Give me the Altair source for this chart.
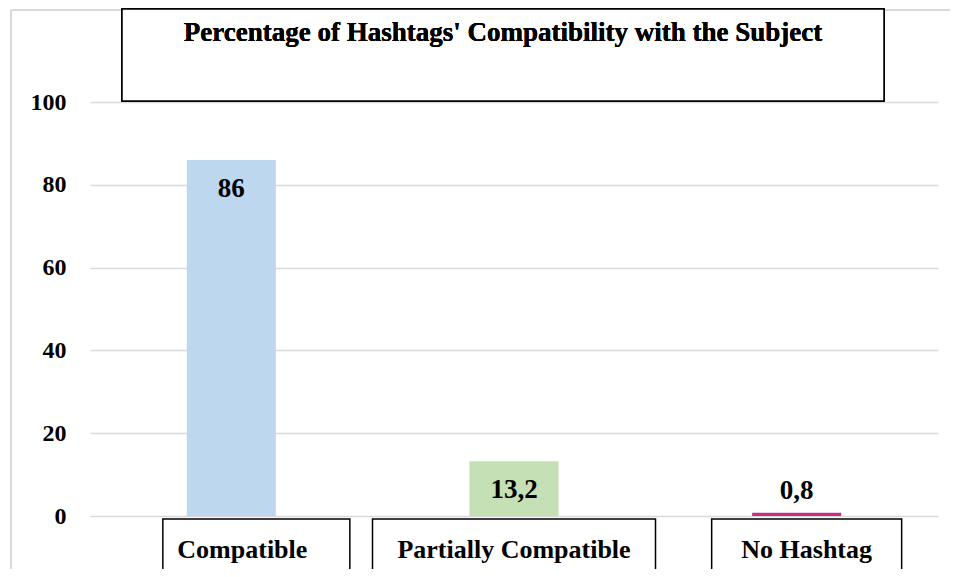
import altair as alt
import pandas as pd

categories = ["Compatible", "Partially Compatible", "No Hashtag"]
values = [86, 13.2, 0.8]
value_labels = ["86", "13,2", "0,8"]
bar_colors = ["#BDD7EE", "#C5E0B4", "#C2307F"]
title_text = "Percentage of Hashtags' Compatibility with the Subject"
y_ticks = [0, 20, 40, 60, 80, 100]

df = pd.DataFrame({"category": categories, "value": values, "label": value_labels})

FONT = "Liberation Serif"
W, H = 848, 414

xenc = alt.X("category:N", sort=categories, axis=None,
             scale=alt.Scale(paddingInner=0, paddingOuter=0))

base = alt.Chart(df)

bars = base.mark_bar(width=alt.RelativeBandSize(0.315)).encode(
    x=xenc,
    y=alt.Y("value:Q", scale=alt.Scale(domain=[0, 100], nice=False),
            axis=alt.Axis(values=y_ticks, title=None, domain=False, ticks=False,
                          labelPadding=24, labelFont=FONT, labelFontSize=24,
                          labelFontWeight="bold", labelColor="black",
                          gridColor="#d9d9d9", gridWidth=1.5)),
    color=alt.Color("category:N", sort=categories,
                    scale=alt.Scale(domain=categories, range=bar_colors), legend=None),
)

labels_in = base.transform_filter("datum.value >= 5").mark_text(
    font=FONT, fontSize=27, fontWeight="bold", color="black",
    baseline="alphabetic", dy=37).encode(x=xenc, y="value:Q", text="label:N")

labels_out = base.transform_filter("datum.value < 5").mark_text(
    font=FONT, fontSize=27, fontWeight="bold", color="black",
    baseline="alphabetic", dy=-14).encode(x=xenc, y="value:Q", text="label:N")

# chart outline (light gray, cropped on right/bottom)
outline_top = base.mark_rule(color="#d9d9d9", strokeWidth=2).encode(
    x=alt.value(-79), x2=alt.value(W + 12), y=alt.value(-92))
outline_left = base.mark_rule(color="#d9d9d9", strokeWidth=2).encode(
    x=alt.value(-79), y=alt.value(-92), y2=alt.value(H + 60))

# title box
title_box = base.mark_rect(fill="white", stroke="black", strokeWidth=1.5).encode(
    x=alt.value(32), x2=alt.value(794), y=alt.value(-93), y2=alt.value(-1))
title_txt = base.mark_text(font=FONT, fontSize=27, fontWeight="bold", color="black",
                           baseline="alphabetic", align="center").encode(
    x=alt.value(413), y=alt.value(-61), text=alt.value(title_text))

# category boxes
box_offsets = [25, 0, 10]
box_widths = [187, 283, 190]
text_offsets = [11, 0, 10]
box_layers = []
for cat, off, wd, toff in zip(categories, box_offsets, box_widths, text_offsets):
    sub = alt.Chart(df[df.category == cat])
    box_layers.append(sub.mark_bar(width=wd, xOffset=off, fill="white", stroke="black",
                                   strokeWidth=1.5).encode(
        x=xenc, y=alt.value(417), y2=alt.value(H + 70)))
    box_layers.append(sub.mark_text(xOffset=toff, font=FONT, fontSize=26, fontWeight="bold",
                                    color="black", baseline="alphabetic").encode(
        x=xenc, y=alt.value(456), text="category:N"))

chart = alt.layer(
    outline_top, outline_left, bars, labels_in, labels_out, title_box, title_txt, *box_layers
).properties(
    width=W, height=H,
    padding={"left": 82, "top": 94, "right": 12, "bottom": 53},
    autosize=alt.AutoSizeParams(type="none"),
).configure_view(strokeWidth=0).resolve_scale(color="independent")

chart.save("out.html", embed_options={"renderer": "svg", "actions": False})
